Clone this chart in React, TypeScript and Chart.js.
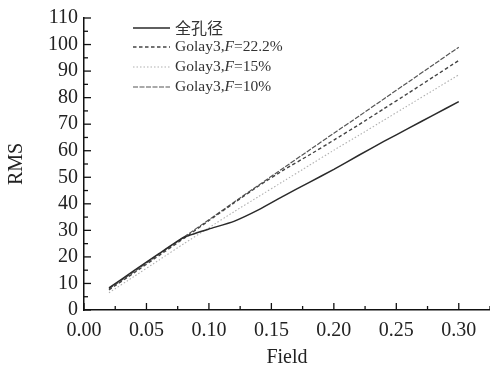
import React, { useEffect, useRef } from "react";
import { Chart, registerables } from "chart.js";

Chart.register(...registerables);

const fields = [0.02, 0.04, 0.06, 0.08, 0.1, 0.12, 0.14, 0.16, 0.18, 0.2, 0.22, 0.24, 0.26, 0.28, 0.3];
const fullAperture = [8.3, 14.8, 21.2, 27.4, 30.5, 33.4, 37.8, 43.0, 48.0, 53.0, 58.3, 63.5, 68.5, 73.5, 78.5];
const golayF222 = [7.6, 14.0, 20.5, 27.0, 33.7, 40.3, 46.8, 52.8, 58.3, 64.0, 69.8, 75.8, 81.8, 87.9, 94.0];
const golayF15 = [6.5, 12.6, 18.8, 25.0, 31.0, 37.0, 42.8, 48.6, 54.4, 60.2, 65.8, 71.5, 77.2, 82.9, 88.6];
const golayF10 = [8.0, 14.4, 21.0, 27.5, 34.0, 40.6, 47.1, 53.6, 60.1, 66.6, 73.0, 79.5, 86.0, 92.5, 99.0];

const seriesNames = ["全孔径", "Golay3,F=22.2%", "Golay3,F=15%", "Golay3,F=10%"];
const xTickLabels = ["0.00", "0.05", "0.10", "0.15", "0.20", "0.25", "0.30"];

const styles = [
  { color: "#2a2a2a", dash: [] as number[], width: 1.5 },
  { color: "#444444", dash: [3.5, 2.5], width: 1.4 },
  { color: "#b0b0b0", dash: [1.5, 2], width: 1.1 },
  { color: "#555555", dash: [5, 1.5], width: 1.2 },
];

const SERIF = '"Liberation Serif", "DejaVu Serif", serif';

const ticksPlugin = {
  id: "inwardTicks",
  afterDraw(chart: any) {
    const { ctx, chartArea, scales } = chart;
    const xs = scales.x;
    const ys = scales.y;
    ctx.save();
    ctx.strokeStyle = "#111";
    ctx.lineWidth = 1.3;
    const major = 7;
    const minor = 4;
    for (let i = 0; i <= 13; i++) {
      const v = i * 0.025;
      const px = xs.getPixelForValue(v);
      if (px > chartArea.right + 0.5) continue;
      const len = i % 2 === 0 ? major : minor;
      ctx.beginPath();
      ctx.moveTo(px, chartArea.bottom);
      ctx.lineTo(px, chartArea.bottom - len);
      ctx.stroke();
    }
    for (let i = 0; i <= 22; i++) {
      const v = i * 5;
      const py = ys.getPixelForValue(v);
      const len = i % 2 === 0 ? major : minor;
      ctx.beginPath();
      ctx.moveTo(chartArea.left, py);
      ctx.lineTo(chartArea.left + len, py);
      ctx.stroke();
    }
    ctx.restore();

    ctx.save();
    const rows = [28, 47, 67, 87];
    const x0 = 133;
    const x1 = 170;
    const tx = 175;
    rows.forEach((ry, i) => {
      const st = styles[i];
      ctx.strokeStyle = st.color;
      ctx.lineWidth = st.width;
      ctx.setLineDash(st.dash);
      ctx.beginPath();
      ctx.moveTo(x0, ry);
      ctx.lineTo(x1, ry);
      ctx.stroke();
      ctx.setLineDash([]);
      ctx.fillStyle = "#333";
      ctx.textBaseline = "middle";
      const name = seriesNames[i];
      if (i === 0) {
        ctx.font = '16px "Noto Sans CJK SC", sans-serif';
        ctx.fillText(name, tx, ry);
      } else {
        const idx = name.indexOf("F=");
        const pre = name.slice(0, idx);
        const post = name.slice(idx + 1);
        let cx = tx;
        ctx.font = "15.5px " + SERIF;
        ctx.fillText(pre, cx, ry);
        cx += ctx.measureText(pre).width;
        ctx.font = "italic 15.5px " + SERIF;
        ctx.fillText("F", cx, ry);
        cx += ctx.measureText("F").width;
        ctx.font = "15.5px " + SERIF;
        ctx.fillText(post, cx, ry);
      }
    });
    ctx.restore();
  },
};

export default function App() {
  const ref = useRef<HTMLCanvasElement | null>(null);
  useEffect(() => {
    if (!ref.current) return;
    const series = [fullAperture, golayF222, golayF15, golayF10];
    const chart = new Chart(ref.current, {
      type: "line",
      data: {
        datasets: series.map((vals, i) => ({
          label: seriesNames[i],
          data: vals.map((v, j) => ({ x: fields[j], y: v })),
          borderColor: styles[i].color,
          borderWidth: styles[i].width,
          borderDash: styles[i].dash,
          pointRadius: 0,
          fill: false,
          tension: 0.15,
        })),
      },
      options: {
        animation: false,
        responsive: false,
        maintainAspectRatio: false,
        layout: { padding: { top: 15, right: 0, left: 0, bottom: 0 } },
        plugins: { legend: { display: false }, tooltip: { enabled: false } },
        scales: {
          x: {
            type: "linear",
            min: 0,
            max: 0.325,
            grid: { display: false, drawTicks: false },
            border: { display: true, color: "#111", width: 1.5 },
            ticks: {
              stepSize: 0.05,
              includeBounds: false,
              autoSkip: false,
              maxRotation: 0,
              padding: 9,
              color: "#222",
              font: { family: SERIF, size: 20 },
              callback: (v: any) => {
                const k = Math.round(Number(v) / 0.05);
                return xTickLabels[k] ?? "";
              },
            },
            title: {
              display: true,
              text: "Field",
              color: "#222",
              font: { family: SERIF, size: 20 },
              padding: { top: 2, bottom: 0 },
            },
            afterFit: (s: any) => {
              s.height = 60;
            },
          },
          y: {
            type: "linear",
            min: 0,
            max: 110,
            grid: { display: false, drawTicks: false },
            border: { display: true, color: "#111", width: 1.5 },
            ticks: {
              stepSize: 10,
              autoSkip: false,
              padding: 6,
              color: "#222",
              font: { family: SERIF, size: 20 },
            },
            title: {
              display: true,
              text: "RMS",
              color: "#222",
              font: { family: SERIF, size: 20 },
              padding: { top: 5, bottom: 0 },
            },
            afterFit: (s: any) => {
              s.width = 84;
            },
          },
        },
      },
      plugins: [ticksPlugin],
    });
    return () => chart.destroy();
  }, []);
  return (
    <div style={{ position: "fixed", left: 0, top: 0, width: 490, height: 370, background: "#fff" }}>
      <canvas ref={ref} width={490} height={370} style={{ width: 490, height: 370 }} />
    </div>
  );
}
